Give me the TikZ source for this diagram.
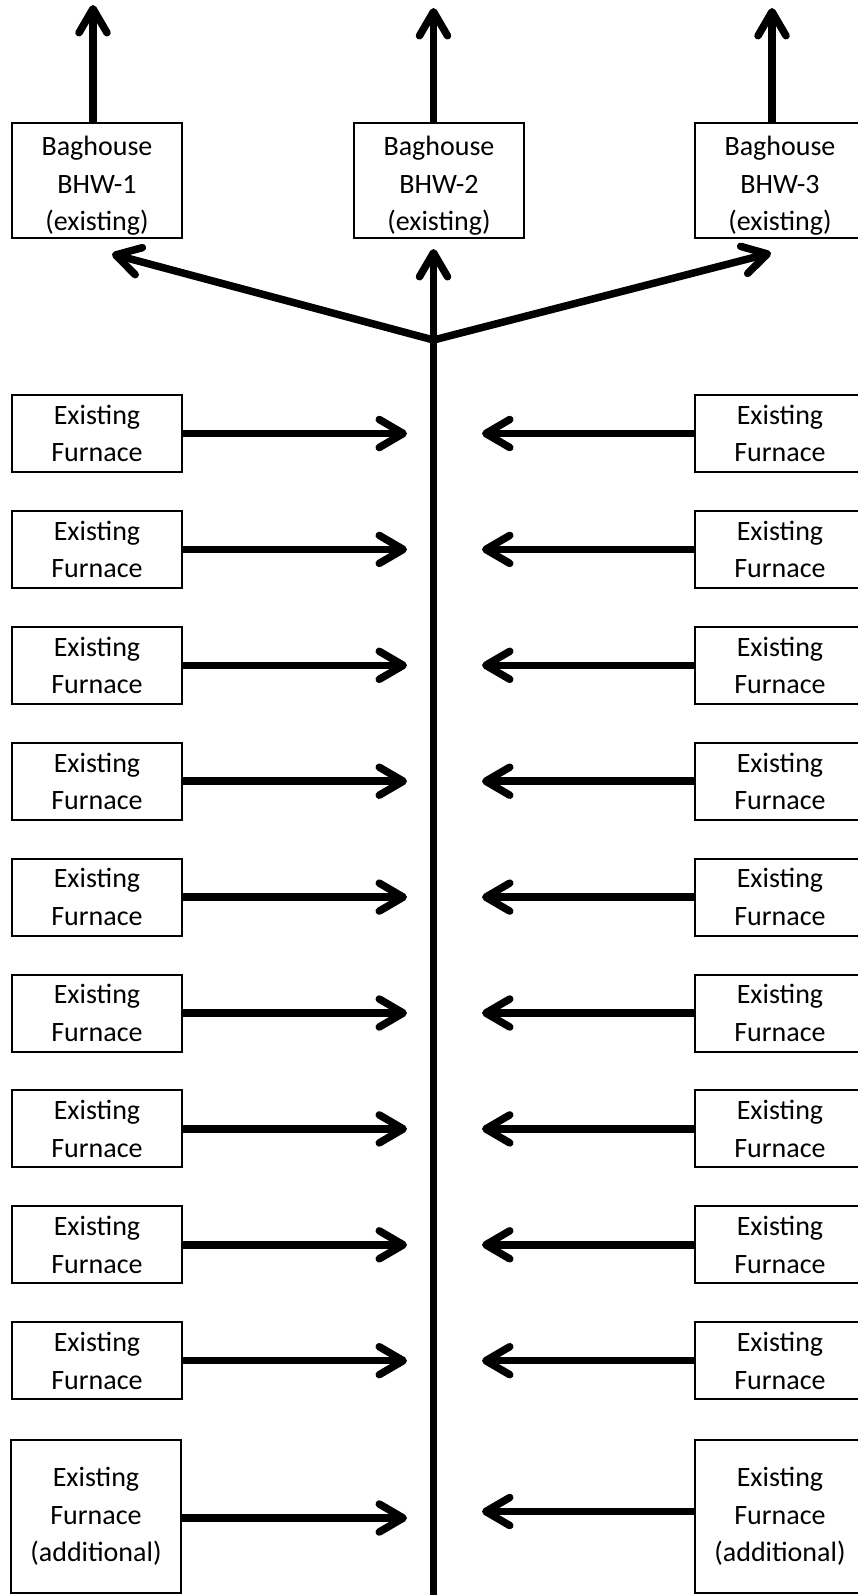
\documentclass[tikz,border=0pt]{standalone}
\usepackage{fontspec}
\setmainfont{Carlito}
\usetikzlibrary{arrows.meta}
\newcommand\bhpad{\rule{0pt}{30pt}}
\begin{document}
\begin{tikzpicture}[x=1pt,y=-1pt,
  box/.style={draw,line width=2pt,align=center,inner sep=0pt,minimum width=170pt,
    font=\fontsize{28}{37.5}\selectfont},
  bagbox/.style={box,minimum height=115pt},
  furnbox/.style={box,minimum height=77pt},
  lastbox/.style={box,minimum height=153pt},
  arr/.style={line width=7.5pt,
    -{Straight Barb[length=24pt,width=28pt,line cap=round,line join=round]}}]
\clip (0,0) rectangle (858,1595);
\fill[white] (0,0) rectangle (858,1595);

% baghouses
\node[bagbox] (b1) at (97,180.5) {\bhpad Baghouse\\BHW-1\\(existing)};
\node[bagbox] (b2) at (439,180.5) {\bhpad Baghouse\\BHW-2\\(existing)};
\node[bagbox] (b3) at (780,180.5) {\bhpad Baghouse\\BHW-3\\(existing)};

% outlet tips
\coordinate (o1) at (93,5);
\coordinate (o2) at (433.5,8);
\coordinate (o3) at (772,8);
\draw[arr] (b1.north -| o1) -- (o1);
\draw[arr] (b2.north -| o2) -- (o2);
\draw[arr] (b3.north -| o3) -- (o3);

% trunk and branches
\coordinate (bot) at (433.5,1600);
\coordinate (j) at (433.5,340);
\coordinate (d1) at (112,254);
\coordinate (d2) at (433.5,249);
\coordinate (d3) at (771,253);
\draw[arr] (bot) -- (d2);
\draw[arr] (j) -- (d1);
\draw[arr] (j) -- (d3);

% furnace tips x
\coordinate (tl) at (407,0);
\coordinate (tr) at (482,0);

\foreach \i in {1,...,9}{
  \pgfmathsetmacro{\yy}{433.5+115.9*(\i-1)}
  \node[furnbox] (L\i) at (97,\yy) {Existing\\Furnace};
  \node[furnbox] (R\i) at (780,\yy) {Existing\\Furnace};
  \draw[arr] (L\i.east) -- (L\i.east -| tl);
  \draw[arr] (R\i.west) -- (R\i.west -| tr);
}
\node[lastbox] (L10) at (96,1516.5) {Existing\\Furnace\\(additional)};
\node[lastbox] (R10) at (780,1516.5) {Existing\\Furnace\\(additional)};
\draw[arr] ([yshift=-1.5pt]L10.east) -- ([yshift=-1.5pt]L10.east -| tl);
\draw[arr] ([yshift=5pt]R10.west) -- ([yshift=5pt]R10.west -| tr);
\end{tikzpicture}
\end{document}
